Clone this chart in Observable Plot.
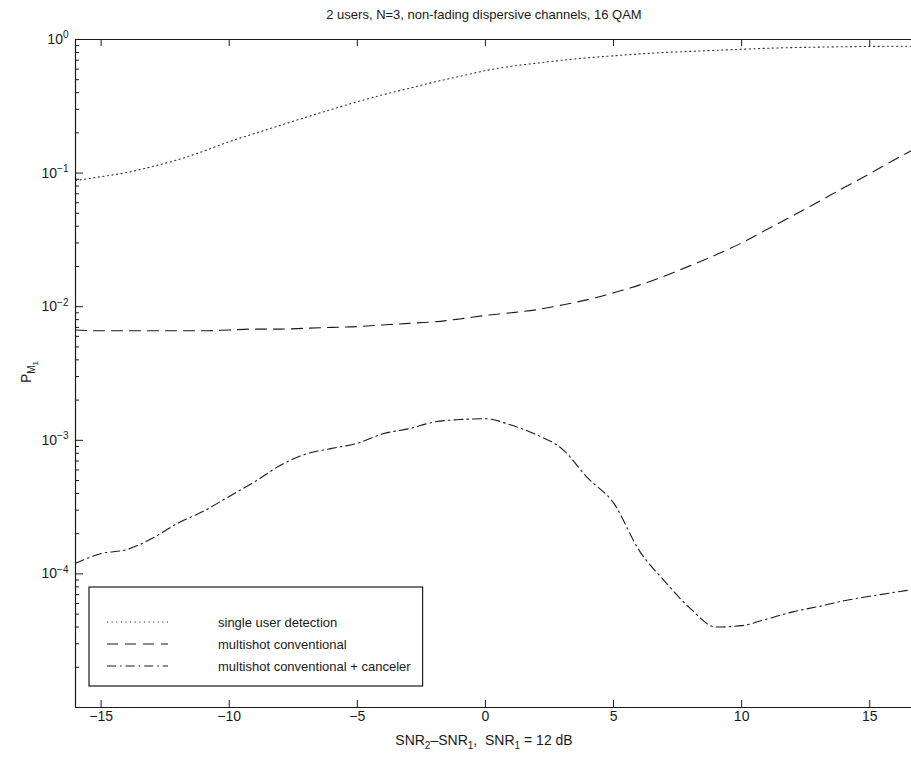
<!DOCTYPE html>
<html><head><meta charset="utf-8">
<script src="https://cdn.jsdelivr.net/npm/d3@7"></script>
<script src="https://cdn.jsdelivr.net/npm/@observablehq/plot@0.6"></script>
<style>body{margin:0;background:#fff} svg{display:block}</style>
</head><body><div id="chart"></div>
<script>
const title = "2 users, N=3, non-fading dispersive channels, 16 QAM";
const seriesNames = ["single user detection", "multishot conventional", "multishot conventional + canceler"];
const snr = [-16,-15,-14,-13,-12,-11,-10,-9,-8,-7,-6,-5,-4,-3,-2,-1,0,1,2,3,4,5,6,7,8,9,10,11,12,13,14,15,16,17];
const singleUser = [0.088,0.094,0.101,0.112,0.126,0.146,0.172,0.198,0.228,0.262,0.300,0.342,0.386,0.43,0.48,0.53,0.585,0.63,0.665,0.70,0.73,0.755,0.78,0.80,0.815,0.83,0.845,0.86,0.87,0.877,0.883,0.887,0.89,0.89];
const multishot = [0.0067,0.0066,0.0066,0.0066,0.0066,0.0066,0.0067,0.0068,0.0068,0.0069,0.0070,0.0071,0.0073,0.0075,0.0077,0.0081,0.0086,0.0090,0.0095,0.0103,0.0113,0.0127,0.0145,0.0170,0.0203,0.0245,0.030,0.038,0.048,0.061,0.078,0.099,0.127,0.16];
const canceler = [1.2e-4,1.42e-4,1.52e-4,1.85e-4,2.4e-4,2.95e-4,3.8e-4,4.9e-4,6.5e-4,7.9e-4,8.7e-4,9.5e-4,1.12e-3,1.22e-3,1.37e-3,1.43e-3,1.45e-3,1.3e-3,1.1e-3,8.6e-4,5.2e-4,3.4e-4,1.5e-4,8.8e-5,5.5e-5,4.0e-5,4.1e-5,4.6e-5,5.2e-5,5.7e-5,6.3e-5,6.8e-5,7.3e-5,7.8e-5];
const xTicks = [-15,-10,-5,0,5,10,15];
const yTicks = [1,1e-1,1e-2,1e-3,1e-4];
const xLabelParts = [["SNR",""],["2","sub"],["\u2013SNR",""],["1","sub"],[",  SNR",""],["1","sub"],[" = 12 dB",""]];

const W = 911, H = 762, mL = 75, mR = 0, mT = 39, mB = 55;
const pw = W - mL - mR, ph = H - mT - mB;
const font = '"Liberation Sans",Arial,sans-serif';
const ink = "#1a1a1a";
const dashes = ["1.2 3.4", "11 7", "9 4 1.6 4"];
const values = [singleUser, multishot, canceler];
const series = values.map((v, i) => snr.map((x, j) => ({x, y: v[j], name: seriesNames[i]})));
const minor = d3.range(-5, 0).flatMap(k => d3.range(2, 10).map(m => m * 10 ** k));

const chart = Plot.plot({
  width: W, height: H, marginLeft: mL, marginRight: mR, marginTop: mT, marginBottom: mB,
  style: {fontFamily: font, fontSize: "14px", color: ink, background: "#fff"},
  x: {domain: [-16, 16.63]},
  y: {type: "log", domain: [1e-5, 1]},
  marks: [
    ...series.map((d, i) => Plot.line(d, {x: "x", y: "y", stroke: i === 0 ? "#333" : ink, strokeWidth: 1.1, strokeDasharray: dashes[i], curve: "monotone-x", clip: true})),
    Plot.ruleX([-16], {stroke: ink, strokeWidth: 1.2}),
    Plot.ruleY([1], {stroke: ink, strokeWidth: 1.2}),
    Plot.ruleY([1e-5], {stroke: ink, strokeWidth: 1.2}),
    Plot.tickX(xTicks, {x: d => d, insetTop: ph - 7, stroke: ink}),
    Plot.tickX(xTicks, {x: d => d, insetBottom: ph - 7, stroke: ink}),
    Plot.tickY(yTicks, {y: d => d, insetRight: pw - 8, stroke: ink}),
    Plot.tickY(minor, {y: d => d, insetRight: pw - 4, stroke: ink}),
    Plot.axisX(xTicks, {tickSize: 0, tickPadding: 4, label: null, fontSize: 14}),
    Plot.axisY(yTicks, {tickSize: 0, tickPadding: 7, label: null, fontSize: 14, tickFormat: d => "10^" + Math.round(Math.log10(d))})
  ]
});
document.getElementById("chart").append(chart);
const svg = d3.select(chart);

svg.selectAll('[aria-label="y-axis tick label"] text').each(function () {
  const [b, e] = this.textContent.split("^");
  this.textContent = b;
  d3.select(this).append("tspan").attr("dy", "-0.55em").attr("font-size", "10px").text(e.replace("-", "\u2212"));
});

// title
svg.append("text").attr("x", 484).attr("y", 19).attr("text-anchor", "middle")
  .attr("font-family", font).attr("font-size", 13).attr("fill", ink).text(title);

// x label
const xl = svg.append("text").attr("x", 484).attr("y", 745).attr("text-anchor", "middle")
  .attr("font-family", font).attr("font-size", 14).attr("fill", ink);
xLabelParts.forEach(([t, k], i) => {
  const prev = i > 0 ? xLabelParts[i - 1][1] : "";
  const ts = xl.append("tspan").text(t);
  if (k === "sub") ts.attr("dy", 4).attr("font-size", 10);
  else if (prev === "sub") ts.attr("dy", -4);
});

// y label
const yl = svg.append("text").attr("transform", "translate(31,372) rotate(-90)").attr("text-anchor", "middle")
  .attr("font-family", font).attr("font-size", 14).attr("fill", ink);
yl.append("tspan").text("P");
yl.append("tspan").attr("dy", 4).attr("font-size", 10).text("M");
yl.append("tspan").attr("dy", 3).attr("font-size", 8).text("1");

// legend
const lg = svg.append("g");
const box = lg.append("rect").attr("x", 89).attr("y", 587).attr("height", 99).attr("fill", "#fff").attr("stroke", ink).attr("stroke-width", 1.2);
let maxEnd = 0;
seriesNames.forEach((n, i) => {
  const cy = 622 + i * 22;
  lg.append("line").attr("x1", 107).attr("x2", 168).attr("y1", cy).attr("y2", cy)
    .attr("stroke", i === 0 ? "#333" : ink).attr("stroke-width", 1.1).attr("stroke-dasharray", dashes[i]);
  const t = lg.append("text").attr("x", 218).attr("y", cy + 5).attr("text-anchor", "start")
    .attr("font-family", font).attr("font-size", 13).attr("fill", ink).text(n);
  maxEnd = Math.max(maxEnd, 218 + t.node().getComputedTextLength());
});
box.attr("width", maxEnd + 12 - 89);
</script></body></html>
